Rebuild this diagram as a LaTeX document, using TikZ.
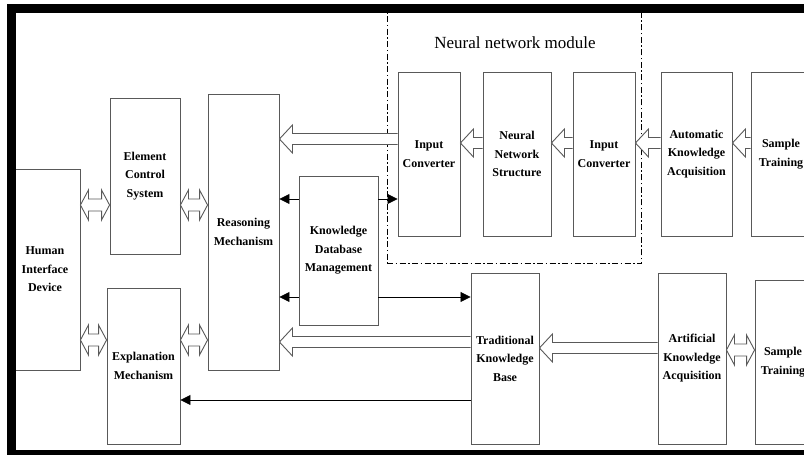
\documentclass[tikz,border=0pt]{standalone}
\usepackage{fontspec}
\setmainfont{Liberation Serif}
\usetikzlibrary{arrows.meta,calc}
\definecolor{boxgray}{gray}{0.35}
\newcommand\hollowleft[2]{\draw[hollow] let \p1=(#1), \p2=(#2) in (\x1,\y1+5.5pt) -- (\x2+13pt,\y1+5.5pt) -- (\x2+13pt,\y1+14pt) -- (\x2,\y1) -- (\x2+13pt,\y1-14pt) -- (\x2+13pt,\y1-5.5pt) -- (\x1,\y1-5.5pt);}
\newcommand\hollowboth[2]{\draw[hollow] let \p1=(#1), \p2=(#2) in (\x1,\y1) -- (\x1+8pt,\y1+15pt) -- (\x1+8pt,\y1+6pt) -- (\x2-8pt,\y1+6pt) -- (\x2-8pt,\y1+15pt) -- (\x2,\y1) -- (\x2-8pt,\y1-15pt) -- (\x2-8pt,\y1-6pt) -- (\x1+8pt,\y1-6pt) -- (\x1+8pt,\y1-15pt) -- cycle;}
\begin{document}
\begin{tikzpicture}[x=1pt,y=1pt,
 box/.style={draw=boxgray, line width=0.9pt, inner sep=0pt, align=center, font=\fontsize{12}{18.5}\selectfont\bfseries},
 hollow/.style={draw=boxgray, line width=0.9pt, fill=white, line join=miter},
 blk/.style={draw=black, line width=0.8pt, -{Triangle[length=10pt,width=10pt]}},
 module/.style={draw=black, line width=1pt, dash pattern=on 6pt off 2.5pt on 1.5pt off 2.5pt, inner sep=0pt}]
\useasboundingbox (0,0) rectangle (804,455);
\clip (0,0) rectangle (804,455);
\fill[white] (0,0) rectangle (804,455);

% module frame and label
\node[module, minimum width=254pt, minimum height=251pt] (nnm) at (514,316.5) {};
\node[font=\fontsize{17}{20}\selectfont] (lbl) at (515,412) {Neural network module};

% boxes
\node[box, minimum width=70pt, minimum height=201pt] (hid) at (45,185.5) {Human\\Interface\\Device};
\node[box, minimum width=70pt, minimum height=156pt] (ecs) at (145,279) {Element\\Control\\System};
\node[box, minimum width=73pt, minimum height=156pt] (em) at (143.5,89) {Explanation\\Mechanism};
\node[box, minimum width=71pt, minimum height=276pt] (rm) at (243.5,223) {Reasoning\\Mechanism};
\node[box, minimum width=79pt, minimum height=149pt] (kdm) at (338.5,204.5) {Knowledge\\Database\\Management};
\node[box, minimum width=62pt, minimum height=164pt] (ic1) at (429,301) {Input\\Converter};
\node[box, minimum width=68pt, minimum height=164pt] (nns) at (517,301) {Neural\\Network\\Structure};
\node[box, minimum width=62pt, minimum height=164pt] (ic2) at (604,301) {Input\\Converter};
\node[box, minimum width=71pt, minimum height=164pt] (aka) at (696.5,301) {Automatic\\Knowledge\\Acquisition};
\node[box, minimum width=60pt, minimum height=164pt] (st1) at (781,301) {Sample\\Training};
\node[box, minimum width=68pt, minimum height=171pt] (tkb) at (505,96.5) {Traditional\\Knowledge\\Base};
\node[box, minimum width=68pt, minimum height=171pt] (aka2) at (692,96.5) {Artificial\\Knowledge\\Acquisition};
\node[box, minimum width=56pt, minimum height=164pt] (st2) at (783,93) {Sample\\Training};

% y levels
\coordinate (yA) at (0,316);
\coordinate (yB) at (0,312);
\coordinate (yC) at (0,250);
\coordinate (yD) at (0,115);
\coordinate (yE) at (0,113);
\coordinate (yF) at (0,107);
\coordinate (yG) at (0,105);
\coordinate (yH) at (0,256);
\coordinate (yI) at (0,158);
\coordinate (yJ) at (0,55);

% hollow arrows
\hollowleft{ic1.west |- yA}{rm.east |- yA}
\hollowleft{nns.west |- yB}{ic1.east |- yB}
\hollowleft{ic2.west |- yB}{nns.east |- yB}
\hollowleft{aka.west |- yB}{ic2.east |- yB}
\hollowleft{st1.west |- yB}{aka.east |- yB}
\hollowleft{tkb.west |- yE}{rm.east |- yE}
\hollowleft{aka2.west |- yF}{tkb.east |- yF}
\hollowboth{hid.east |- yC}{ecs.west |- yC}
\hollowboth{ecs.east |- yC}{rm.west |- yC}
\hollowboth{hid.east |- yD}{em.west |- yD}
\hollowboth{em.east |- yD}{rm.west |- yD}
\hollowboth{aka2.east |- yG}{st2.west |- yG}

% black arrows
\draw[blk] (kdm.west |- yH) -- (rm.east |- yH);
\draw[blk] (kdm.east |- yH) -- (ic1.west |- yH);
\draw[blk] (kdm.west |- yI) -- (rm.east |- yI);
\draw[blk] (kdm.east |- yI) -- (tkb.west |- yI);
\draw[blk] (tkb.west |- yJ) -- (em.east |- yJ);

% black frame
\fill[black] (7,442) rectangle (804,451);
\fill[black] (7,0) rectangle (16,451);
\fill[black] (7,0) rectangle (804,5);
\end{tikzpicture}
\end{document}
